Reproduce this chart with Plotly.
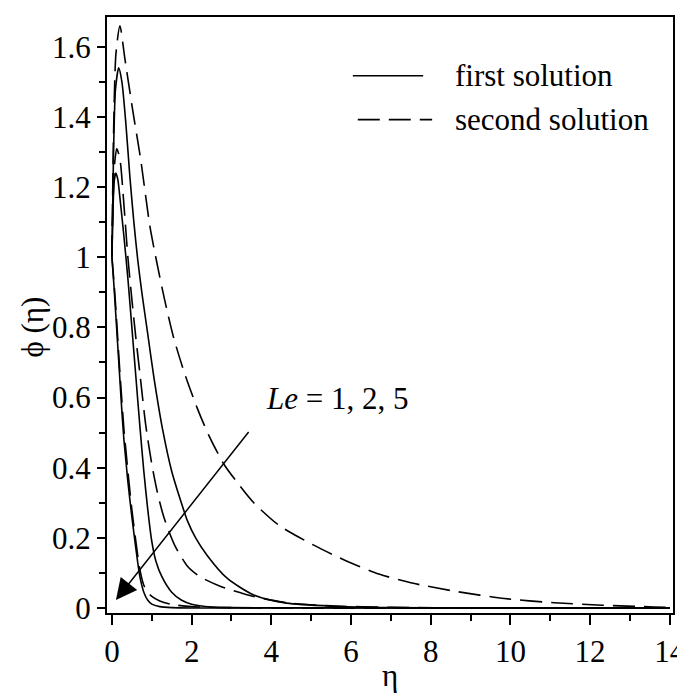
import plotly.graph_objects as go

# ---- data ----
le_values = [1, 2, 5]

eta_le1_first = [0, 0.04, 0.09, 0.17, 0.25, 0.35, 0.45, 0.55, 0.65, 0.75, 0.9, 1.05, 1.27, 1.5, 1.77, 1.89, 2.1, 2.39, 2.89, 3.56, 4.38, 5.6, 7, 10, 14]
phi_le1_first = [1.0, 1.3, 1.48, 1.54, 1.5, 1.38, 1.23, 1.1, 0.99, 0.9, 0.78, 0.66, 0.51, 0.39, 0.29, 0.25, 0.2, 0.15, 0.085, 0.037, 0.014, 0.005, 0.001, 0, 0]

eta_le1_second = [0, 0.04, 0.1, 0.2, 0.32, 0.52, 0.72, 0.95, 1.1, 1.32, 1.55, 1.82, 2.14, 2.44, 2.81, 3.2, 3.56, 4.2, 5.05, 5.87, 6.7, 7.5, 8.6, 9.85, 11.1, 12.3, 13.6, 14]
phi_le1_second = [1.0, 1.35, 1.58, 1.66, 1.57, 1.42, 1.28, 1.09, 1.0, 0.88, 0.77, 0.67, 0.57, 0.49, 0.41, 0.35, 0.3, 0.235, 0.18, 0.135, 0.097, 0.072, 0.048, 0.027, 0.015, 0.008, 0.003, 0.002]

eta_le2_first = [0, 0.03, 0.06, 0.1, 0.15, 0.2, 0.3, 0.4, 0.5, 0.6, 0.7, 0.8, 0.9, 1.0, 1.1, 1.25, 1.5, 1.75, 2.0, 2.5, 3.0, 14]
phi_le2_first = [1.0, 1.15, 1.22, 1.24, 1.22, 1.17, 1.06, 0.94, 0.8, 0.66, 0.52, 0.39, 0.28, 0.19, 0.135, 0.09, 0.045, 0.022, 0.011, 0.003, 0.001, 0]

eta_le2_second = [0, 0.03, 0.07, 0.12, 0.2, 0.3, 0.4, 0.5, 0.6, 0.7, 0.85, 1.0, 1.14, 1.3, 1.57, 1.89, 2.2, 2.7, 3.56, 4.4, 5.5, 7, 9, 14]
phi_le2_second = [1.0, 1.17, 1.27, 1.31, 1.28, 1.15, 1.0, 0.88, 0.77, 0.67, 0.52, 0.41, 0.33, 0.26, 0.18, 0.12, 0.09, 0.063, 0.033, 0.015, 0.006, 0.002, 0, 0]

eta_le5_first = [0, 0.05, 0.1, 0.15, 0.2, 0.25, 0.3, 0.35, 0.4, 0.5, 0.6, 0.7, 0.8, 0.9, 1.0, 1.2, 1.5, 2, 14]
phi_le5_first = [1.0, 0.92, 0.83, 0.74, 0.65, 0.56, 0.48, 0.42, 0.36, 0.26, 0.17, 0.09, 0.045, 0.022, 0.011, 0.004, 0.001, 0, 0]

eta_le5_second = [0, 0.05, 0.1, 0.15, 0.2, 0.25, 0.3, 0.35, 0.4, 0.5, 0.6, 0.7, 0.8, 0.9, 1.0, 1.2, 1.5, 2, 3, 4, 14]
phi_le5_second = [1.0, 0.93, 0.85, 0.76, 0.67, 0.59, 0.51, 0.45, 0.39, 0.28, 0.19, 0.11, 0.065, 0.045, 0.033, 0.02, 0.01, 0.004, 0.001, 0, 0]

x_ticks = [0, 2, 4, 6, 8, 10, 12, 14]
y_ticks = [0, 0.2, 0.4, 0.6, 0.8, 1.0, 1.2, 1.4, 1.6]
y_tick_text = ["0", "0.2", "0.4", "0.6", "0.8", "1", "1.2", "1.4", "1.6"]

legend_labels = ["first solution", "second solution"]
annotation_text = "<i>Le</i> = 1, 2, 5"

# ---- figure ----
FONT = "Liberation Serif, Times New Roman, serif"
DASH = "22px,9px"
LW = 1.6

fig = go.Figure()

series = [
    (eta_le1_first, phi_le1_first, "solid"),
    (eta_le1_second, phi_le1_second, DASH),
    (eta_le2_first, phi_le2_first, "solid"),
    (eta_le2_second, phi_le2_second, DASH),
    (eta_le5_first, phi_le5_first, "solid"),
    (eta_le5_second, phi_le5_second, DASH),
]
for ex, ph, dash in series:
    fig.add_trace(go.Scatter(
        x=ex, y=ph, mode="lines",
        line=dict(color="black", width=LW, dash=dash, shape="spline", smoothing=0.7),
        showlegend=False, hoverinfo="skip",
    ))

axis_common = dict(
    showgrid=False, zeroline=False, showline=True, linecolor="black", linewidth=2,
    mirror=True, ticks="outside", tickcolor="black", tickwidth=1.5,
    tickfont=dict(family=FONT, size=31, color="black"),
)

fig.update_xaxes(
    range=[-0.124, 14.08], tickvals=x_ticks, ticklen=10,
    minor=dict(dtick=1, tick0=0, ticks="outside", ticklen=6, tickcolor="black", tickwidth=1.5),
    **axis_common,
)
fig.update_yaxes(
    range=[-0.0142, 1.685], tickvals=y_ticks, ticktext=y_tick_text, ticklen=8,
    minor=dict(dtick=0.1, tick0=0, ticks="outside", ticklen=6, tickcolor="black", tickwidth=1.5),
    **axis_common,
)

W, H = 685, 695
L, R, T, B = 99, 15, 7, 90
pw, ph_ = W - L - R, H - T - B

def px(x):
    return (x - L) / pw

def py(y):
    return (H - B - y) / ph_

# legend drawn manually
fig.add_shape(type="line", xref="paper", yref="paper", x0=px(347), x1=px(418), y0=py(66), y1=py(66),
              line=dict(color="black", width=LW))
fig.add_shape(type="line", xref="paper", yref="paper", x0=px(352), x1=px(427), y0=py(110), y1=py(110),
              line=dict(color="black", width=LW, dash=DASH))
for lbl, yy in zip(legend_labels, [66, 110]):
    fig.add_annotation(text=lbl, xref="paper", yref="paper", x=px(448), y=py(yy),
                       xanchor="left", yanchor="middle", showarrow=False,
                       font=dict(family=FONT, size=31, color="black"))

# Le arrow and label
fig.add_annotation(x=0.1, y=0.023, ax=3.46, ay=0.506, xref="x", yref="y", axref="x", ayref="y",
                   text="", showarrow=True, arrowhead=2, arrowsize=2.8, arrowwidth=1.5, arrowcolor="black")
fig.add_annotation(text=annotation_text, x=px(331), y=py(390), xref="paper", yref="paper",
                   xanchor="center", yanchor="middle", showarrow=False,
                   font=dict(family=FONT, size=31, color="black"))

# axis titles
fig.add_annotation(text="η", xref="paper", yref="paper", x=px(385), y=py(668),
                   xanchor="center", yanchor="middle", showarrow=False,
                   font=dict(family=FONT, size=31, color="black"))
fig.add_annotation(text="ϕ (η)", xref="paper", yref="paper", x=px(24), y=py(318),
                   xanchor="center", yanchor="middle", showarrow=False, textangle=-90,
                   font=dict(family=FONT, size=31, color="black"))

fig.update_layout(
    width=W, height=H, margin=dict(l=L, r=R, t=T, b=B),
    paper_bgcolor="white", plot_bgcolor="white", showlegend=False,
)

fig.write_html("out.html")
